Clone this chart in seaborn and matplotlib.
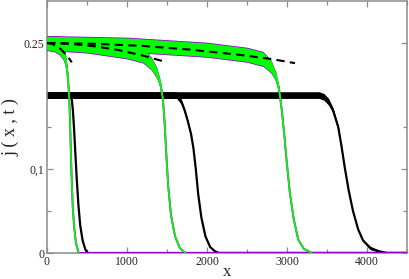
import numpy as np
import pandas as pd
import matplotlib
matplotlib.use("Agg")
import matplotlib.pyplot as plt
from matplotlib.ticker import FixedLocator, MultipleLocator
import seaborn as sns

# green runs (a violet copy sits underneath), three times
x_g1 = [0, 80, 150, 200, 235, 258, 275, 287, 297, 308, 322, 340, 362, 395]
j_g1 = [0.25, 0.249, 0.245, 0.238, 0.228, 0.212, 0.19, 0.16, 0.125, 0.09, 0.055, 0.03, 0.012, 0.0]
w_g1 = [0.008, 0.008, 0.008, 0.007, 0.006, 0.005, 0.003, 0.001, 0, 0, 0, 0, 0, 0]

x_g2 = [0, 500, 1000, 1200, 1300, 1370, 1420, 1450, 1470, 1490, 1515, 1550, 1600, 1660, 1730]
j_g2 = [0.25, 0.247, 0.24, 0.235, 0.226, 0.215, 0.2, 0.182, 0.155, 0.12, 0.08, 0.045, 0.02, 0.006, 0.0]
w_g2 = [0.008, 0.008, 0.008, 0.008, 0.007, 0.006, 0.004, 0.002, 0.001, 0, 0, 0, 0, 0, 0]

x_g3 = [0, 1000, 2000, 2500, 2700, 2800, 2860, 2900, 2935, 2965, 2995, 3035, 3085, 3140, 3210, 3310]
j_g3 = [0.25, 0.248, 0.242, 0.236, 0.231, 0.222, 0.21, 0.195, 0.17, 0.142, 0.11, 0.072, 0.04, 0.016, 0.005, 0.0]
w_g3 = [0.008, 0.008, 0.008, 0.008, 0.008, 0.007, 0.005, 0.003, 0.001, 0, 0, 0, 0, 0, 0, 0]

# black runs, plateau ~0.188
x_k1 = [0, 290, 310, 325, 340, 355, 372, 392, 415, 445, 480, 510, 4500]
j_k1 = [0.188, 0.188, 0.183, 0.168, 0.145, 0.118, 0.088, 0.058, 0.033, 0.015, 0.004, 0.0, 0.0]
w_k1 = [0.004, 0.004, 0.003, 0.001, 0, 0, 0, 0, 0, 0, 0, 0, 0]

x_k2 = [0, 1620, 1680, 1720, 1760, 1800, 1830, 1860, 1890, 1930, 1980, 2040, 2100, 2150, 4500]
j_k2 = [0.188, 0.188, 0.18, 0.17, 0.157, 0.142, 0.125, 0.1, 0.07, 0.042, 0.02, 0.007, 0.002, 0.0, 0.0]
w_k2 = [0.004, 0.004, 0.003, 0.002, 0.001, 0, 0, 0, 0, 0, 0, 0, 0, 0, 0]

x_k3 = [0, 3400, 3460, 3520, 3575, 3640, 3680, 3720, 3770, 3825, 3890, 3950, 4040, 4150, 4250, 4500]
j_k3 = [0.188, 0.188, 0.186, 0.18, 0.17, 0.15, 0.128, 0.103, 0.075, 0.05, 0.028, 0.015, 0.006, 0.002, 0.0, 0.0]
w_k3 = [0.004, 0.004, 0.004, 0.004, 0.003, 0.002, 0.001, 0, 0, 0, 0, 0.001, 0.002, 0.001, 0, 0]

# dashed fits on the green plateaus
x_d1 = [0, 60, 120, 170, 210, 250, 280, 310]
j_d1 = [0.25, 0.249, 0.246, 0.243, 0.239, 0.235, 0.231, 0.227]
x_d2 = [0, 300, 600, 900, 1200, 1500]
j_d2 = [0.25, 0.249, 0.246, 0.2415, 0.235, 0.227]
x_d3 = [0, 600, 1200, 1800, 2400, 2800, 3100]
j_d3 = [0.25, 0.249, 0.2465, 0.242, 0.236, 0.231, 0.226]

GREEN = "#00ff00"
VIOLET = "#9400d3"
FRAME = "#8c8c8c"

sns.set_style("ticks")
plt.rcParams['font.family'] = ['Liberation Serif', 'DejaVu Serif']

fig = plt.figure(figsize=(4.09, 2.79), dpi=100)
ax = fig.add_axes([47 / 409, 26 / 279, 360 / 409, 252 / 279])


def band(x, j, w, color, scale, z):
    x = np.array(x)
    j = np.array(j)
    w = np.array(w) * scale
    ax.fill_between(x, j - w, j + w, color=color, lw=0, zorder=z)


def line(x, j, color, lw, z, ls="-"):
    df = pd.DataFrame({"x": x, "j": j})
    sns.lineplot(data=df, x="x", y="j", ax=ax, color=color, lw=lw,
                 linestyle=ls, estimator=None, sort=False, zorder=z)


# black runs
for x, j, w in [(x_k3, j_k3, w_k3), (x_k2, j_k2, w_k2), (x_k1, j_k1, w_k1)]:
    band(x, j, w, "black", 1.0, 2)
    line(x, j, "black", 1.6, 2)

# violet copies, then green on top
for x, j, w in [(x_g3, j_g3, w_g3), (x_g2, j_g2, w_g2), (x_g1, j_g1, w_g1)]:
    band(x, j, w, VIOLET, 1.12, 3)
    line(list(x) + [4500], list(j) + [0.0], VIOLET, 1.4, 3)
for x, j, w in [(x_g3, j_g3, w_g3), (x_g2, j_g2, w_g2), (x_g1, j_g1, w_g1)]:
    band(x, j, w, GREEN, 1.0, 4)
    line(x, j, GREEN, 1.2, 4)

# fits
for x, j in [(x_d3, j_d3), (x_d2, j_d2), (x_d1, j_d1)]:
    line(x, j, "black", 1.5, 5, ls=(0, (4, 2.5)))

ax.set_xlim(0, 4500)
ax.set_ylim(0, 0.3)

ax.xaxis.set_major_locator(MultipleLocator(1000))
ax.xaxis.set_minor_locator(MultipleLocator(500))
ax.yaxis.set_major_locator(FixedLocator([0, 0.1, 0.25]))
ax.yaxis.set_minor_locator(FixedLocator([0.05, 0.15]))
ax.set_yticklabels(["0", "0,1", "0.25"])

ax.tick_params(which="both", direction="in", top=True, right=True,
               color=FRAME, labelsize=8.5, pad=2)
ax.tick_params(which="major", length=4.5, width=0.9)
ax.tick_params(which="minor", length=3, width=0.9)
for s in ax.spines.values():
    s.set_color(FRAME)
    s.set_linewidth(1.1)

ax.set_xlabel("x", fontsize=12, labelpad=-3)
ax.set_ylabel("j ( x , t )", fontsize=13, labelpad=3)

fig.savefig("out.png", dpi=100)
